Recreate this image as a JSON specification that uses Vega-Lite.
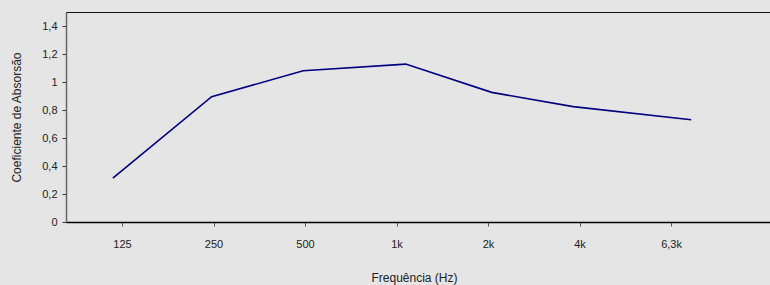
{
  "$schema": "https://vega.github.io/schema/vega-lite/v6.json",
  "autosize": {"type": "none"},
  "padding": {"left": 66, "top": 12, "right": 0, "bottom": 63},
  "width": 710,
  "height": 210,
  "background": "#e5e5e5",
  "config": {
    "view": {"stroke": "#111", "strokeWidth": 1, "fill": "#e5e5e5"},
    "font": "Liberation Sans"
  },
  "data": {
    "values": [
      {"freq": "125", "pos": 0.90, "coef": 0.313},
      {"freq": "250", "pos": 1.98, "coef": 0.895},
      {"freq": "500", "pos": 2.98, "coef": 1.08},
      {"freq": "1k", "pos": 4.10, "coef": 1.128},
      {"freq": "2k", "pos": 5.04, "coef": 0.926},
      {"freq": "4k", "pos": 5.93, "coef": 0.824},
      {"freq": "6,3k", "pos": 7.22, "coef": 0.73}
    ]
  },
  "mark": {"type": "line", "color": "#000080", "strokeWidth": 1.6},
  "encoding": {
    "x": {
      "field": "pos",
      "type": "quantitative",
      "scale": {"domain": [0.388, 8.147], "nice": false, "zero": false},
      "axis": {
        "title": "Frequência (Hz)",
        "values": [1, 2, 3, 4, 5, 6, 7],
        "labelExpr": "['','125','250','500','1k','2k','4k','6,3k'][datum.value]",
        "grid": false,
        "domainColor": "#000",
        "domainWidth": 1.5,
        "tickColor": "#555",
        "tickSize": 4,
        "labelFontSize": 11,
        "labelColor": "#222",
        "labelPadding": 12,
        "titleFontSize": 12,
        "titleFontWeight": "normal",
        "titleColor": "#222",
        "titlePadding": 23,
        "titleX": 348
      }
    },
    "y": {
      "field": "coef",
      "type": "quantitative",
      "scale": {"domain": [0, 1.5], "nice": false},
      "axis": {
        "title": "Coeficiente de Absorsão",
        "values": [0, 0.2, 0.4, 0.6, 0.8, 1, 1.2, 1.4],
        "labelExpr": "replace(format(datum.value, '~g'), '.', ',')",
        "grid": false,
        "domainColor": "#666",
        "domainWidth": 1.5,
        "tickColor": "#333",
        "tickSize": 4,
        "labelFontSize": 11,
        "labelColor": "#222",
        "labelPadding": 5,
        "titleFontSize": 12,
        "titleFontWeight": "normal",
        "titleColor": "#222",
        "titlePadding": 18
      }
    }
  }
}
